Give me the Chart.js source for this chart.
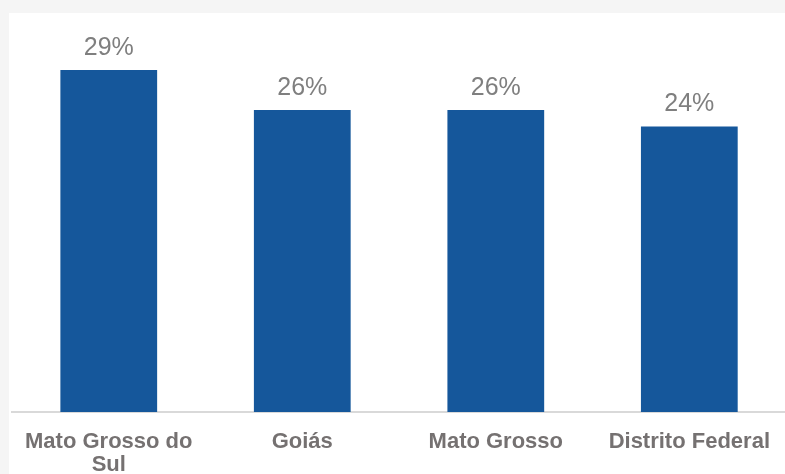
<!DOCTYPE html>
<html>
<head>
<meta charset="utf-8">
<script src="https://cdn.jsdelivr.net/npm/chart.js@4"></script>
<style>
    html, body { margin: 0; padding: 0; width: 785px; height: 474px; overflow: hidden; background: #f5f5f5; }
    #panel { position: absolute; left: 9px; top: 13px; right: 0; bottom: 0; background: #fff; }
    #wrap { position: absolute; left: 0; top: 0; }
</style>
</head>
<body>
<div id="panel"></div>
<div id="wrap"><canvas id="chart" width="788" height="474"></canvas></div>
<script>
// values (percent)
const categories = [['Mato Grosso do', 'Sul'], 'Goiás', 'Mato Grosso', 'Distrito Federal'];
const shares = [29.0, 25.6, 25.6, 24.2];

// draws the "29%" style labels above each bar
const valueLabels = {
    id: 'valueLabels',
    afterDatasetsDraw(chart) {
        const ctx = chart.ctx;
        const meta = chart.getDatasetMeta(0);
        ctx.save();
        ctx.font = '25px "Liberation Sans", Arial, sans-serif';
        ctx.fillStyle = '#7f7f7f';
        ctx.textAlign = 'center';
        ctx.textBaseline = 'middle';
        meta.data.forEach((bar, i) => {
            ctx.fillText(Math.round(shares[i]) + '%', bar.x, bar.y - 22);
        });
        ctx.restore();
    }
};

new Chart(document.getElementById('chart'), {
    type: 'bar',
    data: {
        labels: categories,
        datasets: [{
            data: shares,
            backgroundColor: '#15579b',
            categoryPercentage: 1,
            barPercentage: 0.5
        }]
    },
    options: {
        responsive: false,
        animation: false,
        layout: { padding: { left: 12, right: 0, top: 11, bottom: 0 } },
        plugins: {
            legend: { display: false },
            tooltip: { enabled: false }
        },
        scales: {
            x: {
                grid: { display: false, drawTicks: false },
                border: { display: true, color: '#d9d9d9', width: 2 },
                ticks: {
                    color: '#757171',
                    padding: 18,
                    maxRotation: 0,
                    autoSkip: false,
                    font: { family: '"Liberation Sans", Arial, sans-serif', size: 22, weight: 'bold', lineHeight: 1.05 }
                },
                afterFit(scale) { scale.height = 62; }
            },
            y: {
                display: false,
                min: 0,
                max: 34
            }
        }
    },
    plugins: [valueLabels]
});
</script>
</body>
</html>
